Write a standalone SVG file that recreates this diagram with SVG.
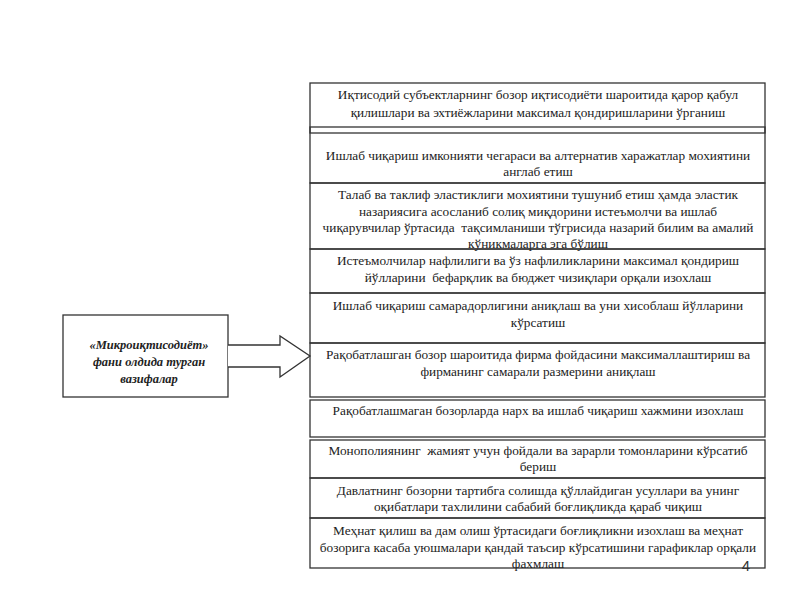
<svg xmlns="http://www.w3.org/2000/svg" width="800" height="600" viewBox="0 0 800 600">
<style>
.box{fill:none;stroke:#333;stroke-width:1.3}
.t{font-family:"Liberation Serif","DejaVu Serif",serif;font-size:13.3px;fill:#222;text-anchor:middle}
.lt{font-family:"Liberation Serif","DejaVu Serif",serif;font-size:12.5px;font-weight:bold;font-style:italic;fill:#222;text-anchor:middle}
</style>
<rect width="800" height="600" fill="#fff"/>
<g id="source">
<rect class="box" x="63" y="315" width="165" height="82"/>
<text class="lt" x="149" y="349">«Микроиқтисодиёт»</text>
<text class="lt" x="149" y="366">фани олдида турган</text>
<text class="lt" x="149" y="383">вазифалар</text>
</g>
<g id="connectors">
<polyline points="228,345 280,345 280,336 310,356 280,377 280,367 228,367" fill="#fff" stroke="#333" stroke-width="1.3"/>
</g>
<g id="n1">
<rect class="box" x="310" y="83" width="455" height="50"/>
<text class="t" x="538" y="99">Иқтисодий субъектларнинг бозор иқтисодиёти шароитида қарор қабул</text>
<text class="t" x="538" y="117">қилишлари ва эхтиёжларини максимал қондиришларини ўрганиш</text>
</g>
<g id="n2">
<rect class="box" x="310" y="127" width="455" height="56"/>
<text class="t" x="538" y="160">Ишлаб чиқариш имконияти чегараси ва алтернатив харажатлар мохиятини</text>
<text class="t" x="538" y="176">англаб етиш</text>
</g>
<g id="n3">
<rect class="box" x="310" y="183" width="455" height="66"/>
<text class="t" x="538" y="199">Талаб ва таклиф эластиклиги мохиятини тушуниб етиш ҳамда эластик</text>
<text class="t" x="538" y="216">назариясига асосланиб солиқ миқдорини истеъмолчи ва ишлаб</text>
<text class="t" x="538" y="232" xml:space="preserve">чиқарувчилар ўртасида  тақсимланиши тўгрисида назарий билим ва амалий</text>
<text class="t" x="538" y="248">кўникмаларга эга бўлиш</text>
</g>
<g id="n4">
<rect class="box" x="310" y="249" width="455" height="44"/>
<text class="t" x="538" y="265">Истеъмолчилар нафлилиги ва ўз нафлиликларини максимал қондириш</text>
<text class="t" x="538" y="282" xml:space="preserve">йўлларини  бефарқлик ва бюджет чизиқлари орқали изохлаш</text>
</g>
<g id="n5">
<rect class="box" x="310" y="293" width="455" height="50"/>
<text class="t" x="538" y="310">Ишлаб чиқариш самарадорлигини аниқлаш ва уни хисоблаш йўлларини</text>
<text class="t" x="538" y="327">кўрсатиш</text>
</g>
<g id="n6">
<rect class="box" x="310" y="343" width="455" height="54"/>
<text class="t" x="538" y="359">Рақобатлашган бозор шароитида фирма фойдасини максималлаштириш ва</text>
<text class="t" x="538" y="376">фирманинг самарали размерини аниқлаш</text>
</g>
<g id="n7">
<rect class="box" x="310" y="400" width="455" height="37"/>
<text class="t" x="538" y="415">Рақобатлашмаган бозорларда нарх ва ишлаб чиқариш хажмини изохлаш</text>
</g>
<g id="n8">
<rect class="box" x="310" y="440" width="455" height="38"/>
<text class="t" x="538" y="455" xml:space="preserve">Монополиянинг  жамият учун фойдали ва зарарли томонларини кўрсатиб</text>
<text class="t" x="538" y="471">бериш</text>
</g>
<g id="n9">
<rect class="box" x="310" y="478" width="455" height="40"/>
<text class="t" x="538" y="495">Давлатнинг бозорни тартибга солишда қўллайдиган усуллари ва унинг</text>
<text class="t" x="538" y="511">оқибатлари тахлилини сабабий боғлиқликда қараб чиқиш</text>
</g>
<g id="n10">
<rect class="box" x="310" y="518" width="455" height="50"/>
<text class="t" x="538" y="535">Меҳнат қилиш ва дам олиш ўртасидаги боғлиқликни изохлаш ва меҳнат</text>
<text class="t" x="538" y="552">бозорига касаба уюшмалари қандай таъсир кўрсатишини гарафиклар орқали</text>
<text class="t" x="538" y="568">фахмлаш</text>
</g>
<text x="746" y="571" font-family="Liberation Sans, Arial, sans-serif" font-size="15" fill="#333" text-anchor="middle">4</text>
</svg>
